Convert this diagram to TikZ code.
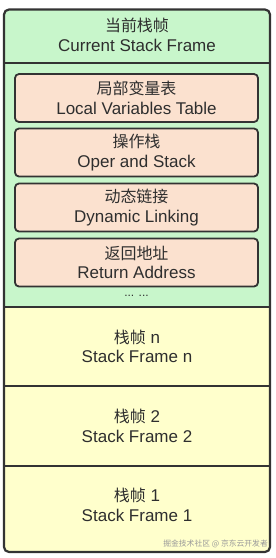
\documentclass[tikz,border=0pt]{standalone}
\usepackage{fontspec}
\setmainfont{Liberation Sans}
\newfontfamily\cjk[Scale=0.94]{Noto Sans CJK SC}
\newfontfamily\markfont{Noto Sans CJK SC}

\definecolor{currentgreen}{HTML}{C8F6CB}
\definecolor{partpeach}{HTML}{FBE1CF}
\definecolor{frameyellow}{HTML}{FFFFCC}
\definecolor{edgegray}{HTML}{333333}
\definecolor{textgray}{HTML}{2E2E2E}

\tikzset{
    label text/.style={align=center, inner sep=0pt, text=textgray,
        font=\fontsize{17}{19.5}\selectfont},
    part box/.style={label text, draw=edgegray, fill=partpeach, line width=1.8pt,
        rounded corners=4pt, minimum width=243pt, minimum height=48pt},
    divider/.style={draw=edgegray, line width=2pt}
}

\begin{document}
\begin{tikzpicture}[x=1pt, y=-1pt]
    \useasboundingbox (0,0) rectangle (276,558);
    \fill[white] (0,0) rectangle (276,558);

    % regions of the stack
    \begin{scope}
        \clip[rounded corners=5pt] (4,9.5) rectangle (270,552);
        \fill[currentgreen] (4,9.5) rectangle (270,307);
        \fill[frameyellow] (4,307) rectangle (270,552);
    \end{scope}

    \coordinate (headleft) at (4,62.5);
    \coordinate (headright) at (270,62.5);
    \coordinate (nleft) at (4,307);
    \coordinate (nright) at (270,307);
    \coordinate (twoleft) at (4,386);
    \coordinate (tworight) at (270,386);
    \coordinate (oneleft) at (4,466);
    \coordinate (oneright) at (270,466);
    \draw[divider] (headleft) -- (headright);
    \draw[divider] (nleft) -- (nright);
    \draw[divider] (twoleft) -- (tworight);
    \draw[divider] (oneleft) -- (oneright);
    \draw[edgegray, line width=2.2pt, rounded corners=5pt] (4,9.5) rectangle (270,552);

    \node[label text] (current) at (137,35) {{\cjk 当前栈帧}\\Current Stack Frame};

    % parts of the current frame
    \node[part box] (locals) at (136.5,98) {{\cjk 局部变量表}\\Local Variables Table};
    \node[part box] (operand) at (136.5,152.5) {{\cjk 操作栈}\\Oper and Stack};
    \node[part box] (linking) at (136.5,207.5) {{\cjk 动态链接}\\Dynamic Linking};
    \node[part box] (retaddr) at (136.5,262.5) {{\cjk 返回地址}\\Return Address};
    \node[label text, font=\fontsize{12}{13}\selectfont] (more) at (136.5,296) {... ...};

    \node[label text] (framen) at (137,346.5) {{\cjk 栈帧} n\\Stack Frame n};
    \node[label text] (frametwo) at (137,426) {{\cjk 栈帧} 2\\Stack Frame 2};
    \node[label text] (frameone) at (137,505) {{\cjk 栈帧} 1\\Stack Frame 1};

    \node[anchor=east, inner sep=0pt, text=gray!80, font=\markfont\fontsize{7.8}{9}\selectfont]
        (mark) at (268,544) {掘金技术社区 @ 京东云开发者};
\end{tikzpicture}
\end{document}
